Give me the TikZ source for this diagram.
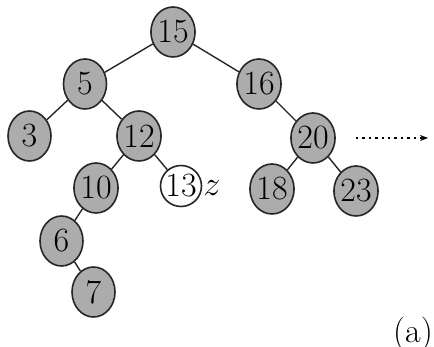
\documentclass[tikz,border=0pt]{standalone}
\usepackage{tikz}
\usetikzlibrary{shapes.geometric}
\usetikzlibrary{arrows.meta}

\tikzset{
    keynode/.style={ellipse, draw=black!85, line width=0.8pt, fill=gray!65,
        minimum width=21.5pt, minimum height=25pt, inner sep=0pt,
        font=\fontsize{17}{17}\selectfont},
    newnode/.style={circle, draw=black!85, line width=0.8pt, fill=white,
        minimum size=20.5pt, inner sep=0pt, font=\fontsize{17}{17}\selectfont},
    treeedge/.style={line width=0.7pt, black!85}
}

\begin{document}
\begin{tikzpicture}[x=0.5pt, y=-0.5pt]
    \useasboundingbox (0,0) rectangle (434,347);

    % Keys of the tree
    \node[keynode] (n15) at (173,32) {15};
    \node[keynode] (n5) at (85,84) {5};
    \node[keynode] (n16) at (259,84) {16};
    \node[keynode] (n3) at (29.5,136) {3};
    \node[keynode] (n12) at (139,136) {12};
    \node[keynode] (n20) at (313,138) {20};
    \node[keynode] (n10) at (96,188) {10};
    \node[keynode] (n18) at (272,189) {18};
    \node[keynode] (n23) at (356,191) {23};
    \node[keynode] (n6) at (61.5,241) {6};
    \node[keynode] (n7) at (93.5,292) {7};

    % Inserted key
    \node[newnode] (n13) at (181,186) {13};
    \node[font=\fontsize{17}{17}\selectfont] (zlabel) at (212,188) {$z$};

    % Edges
    \foreach \a/\b in {n15/n5, n15/n16, n5/n3, n5/n12, n12/n10, n12/n13,
                       n10/n6, n6/n7, n16/n20, n20/n18, n20/n23} {
        \draw[treeedge] (\a) -- (\b);
    }

    % Pointer to the next part
    \coordinate (ptrstart) at (356,138);
    \coordinate (ptrend) at (428,138);
    \draw[dotted, line width=1.2pt, -{Stealth[length=4pt]}] (ptrstart) -- (ptrend);

    \node[font=\fontsize{17}{17}\selectfont] (caption) at (413,334) {(a)};
\end{tikzpicture}
\end{document}
